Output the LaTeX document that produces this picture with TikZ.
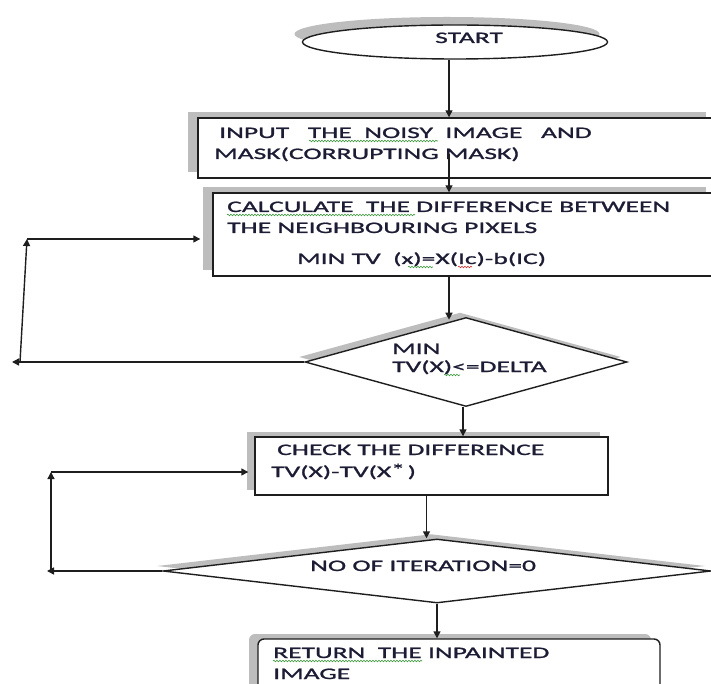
\documentclass[tikz,border=0pt]{standalone}
\usepackage{fontspec}
\newfontfamily\chartfont[FakeStretch=1.72,FakeBold=1.3]{Carlito}
\usetikzlibrary{shapes.geometric,shadows,arrows.meta,decorations.pathmorphing,calc}
\definecolor{linecol}{HTML}{1E1E1E}
\definecolor{txtcol}{HTML}{1C1C34}
\definecolor{shadowgray}{HTML}{BDBDBD}
\definecolor{spellgreen}{HTML}{3C9A3C}
\definecolor{spellred}{HTML}{D03030}
\begin{document}
\begin{tikzpicture}[x=1pt,y=-1pt,
  shapeline/.style={draw=linecol, line width=1.4pt, fill=white, inner sep=0pt},
  conn/.style={draw=linecol, line width=1.4pt, -{Triangle[length=7pt,width=7pt]}},
  txt/.style={font=\chartfont\fontsize{16}{19}\selectfont, text=txtcol, inner sep=0pt, anchor=base west},
  spell/.style={draw=#1, line width=0.6pt, decorate, decoration={snake, amplitude=0.8pt, segment length=3pt}},
  boxshadow/.style={drop shadow={shadow xshift=-10pt, shadow yshift=6pt, fill=shadowgray, opacity=1}},
  diashadow/.style={drop shadow={shadow xshift=-6pt, shadow yshift=5pt, fill=shadowgray, opacity=1}}
]
\useasboundingbox (0,0) rectangle (711,684);
\fill[white] (0,0) rectangle (711,684);

% shapes
\node[shapeline, ellipse, minimum width=305pt, minimum height=34pt,
      drop shadow={shadow xshift=-8pt, shadow yshift=8pt, fill=shadowgray, opacity=1}] (start) at (455,42) {};
\node[shapeline, rectangle, minimum width=518pt, minimum height=60pt, boxshadow] (input) at (457,148) {};
\node[shapeline, rectangle, minimum width=503pt, minimum height=83pt, boxshadow] (calc) at (464.5,234.5) {};
\node[shapeline, diamond, minimum width=322pt, minimum height=89pt, diashadow] (d1) at (466,362) {};
\node[shapeline, rectangle, minimum width=353pt, minimum height=58pt,
      drop shadow={shadow xshift=-8pt, shadow yshift=5pt, fill=shadowgray, opacity=1}] (check) at (431.5,466) {};
\node[shapeline, diamond, minimum width=548pt, minimum height=64pt, diashadow] (d2) at (437,571) {};
\node[shapeline, rectangle, rounded corners=6pt, minimum width=402pt, minimum height=64pt,
      drop shadow={shadow xshift=-9pt, shadow yshift=5pt, fill=shadowgray, opacity=1}] (ret) at (459,671) {};

% texts
\node[txt] (tstart) at (435,43) {START};
\node[txt] (tin1) at (219,138) {INPUT\ \ \ THE\ \ NOISY\ \ IMAGE\ \ \ AND};
\node[txt] (tin2) at (214,159) {MASK(CORRUPTING MASK)};
\node[txt] (tc1) at (227,212) {CALCULATE\ \ THE DIFFERENCE BETWEEN};
\node[txt] (tc2) at (227,233) {THE NEIGHBOURING PIXELS};
\node[txt] (tc3) at (297,264) {MIN TV\ \ (x)=X(Ic)-b(IC)};
\node[txt] (td1a) at (392,354) {MIN};
\node[txt] (td1b) at (392,372) {TV(X)<=DELTA};
\node[txt] (tch1) at (277,455) {CHECK THE DIFFERENCE};
\node[txt] (tch2) at (271,477) {TV(X)-TV(X\raisebox{2pt}{*}\,)};
\node[txt] (td2) at (310,571) {NO OF ITERATION=0};
\node[txt] (tr1) at (273,658) {RETURN\ \ THE INPAINTED};
\node[txt] (tr2) at (273,679) {IMAGE};

% spell-check underlines
\draw[spell=spellgreen] (309,141) -- (438,141);
\draw[spell=spellgreen] (227,215) -- (415,215);
\draw[spell=spellgreen] (408,267) -- (433,267);
\draw[spell=spellred] (458,267) -- (472,267);
\draw[spell=spellgreen] (444,375) -- (460,375);
\draw[spell=spellgreen] (273,661) -- (422,661);

% main flow connectors
\draw[conn] ([xshift=-6pt]start.south) -- ([xshift=-6pt]start.south |- input.north);
\draw[conn] ($(input.center)+(-8,6)$) -- ($(input.center |- calc.north)+(-8,0)$);
\draw[conn] ($(calc.south)+(-15.5,0)$) -- ($(calc.south)+(-15.5,43)$);
\draw[conn] ([xshift=-3pt]d1.south) -- ([xshift=-3pt]d1.south |- check.north);
\draw[conn] ([xshift=-5pt]check.south) -- ([xshift=-5pt]check.south |- d2.north);
\draw[conn] (d2.south) -- (d2.south |- ret.north);

% loop 1
\coordinate (l1a) at (12,362);
\coordinate (l1b) at (20,362);
\coordinate (l1c) at (27,239);
\draw[conn] (d1.west) -- (l1a);
\draw[conn] (l1b) -- (l1c);
\draw[conn] (l1c) -- ($(l1c -| calc.west)+(-12,0)$);

% loop 2
\coordinate (l2a) at (47,571);
\coordinate (l2b) at (51,571);
\coordinate (l2c) at (51,472);
\draw[conn] (d2.west) -- (l2a);
\draw[conn] (l2b) -- (l2c);
\draw[conn] (l2c) -- ($(l2c -| check.west)+(-6,0)$);
\end{tikzpicture}
\end{document}
